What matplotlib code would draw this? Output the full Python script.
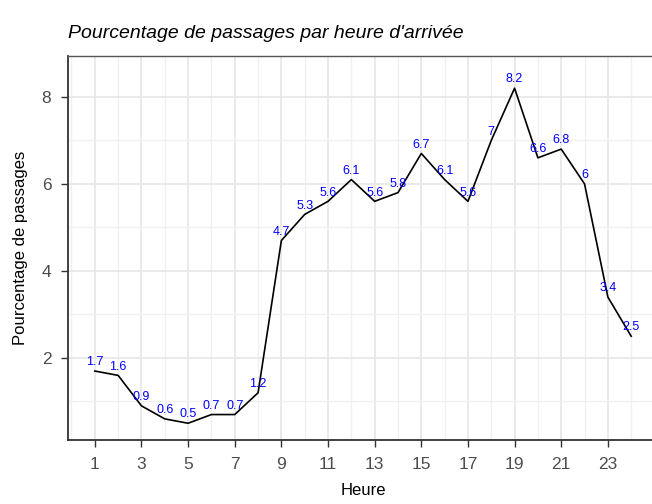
import matplotlib.pyplot as plt
import numpy as np

heures = list(range(1, 25))
pourcentages = [1.7, 1.6, 0.9, 0.6, 0.5, 0.7, 0.7, 1.2, 4.7, 5.3, 5.6, 6.1,
                5.6, 5.8, 6.7, 6.1, 5.6, 7, 8.2, 6.6, 6.8, 6, 3.4, 2.5]
etiquettes = ["1.7", "1.6", "0.9", "0.6", "0.5", "0.7", "0.7", "1.2", "4.7", "5.3", "5.6", "6.1",
              "5.6", "5.8", "6.7", "6.1", "5.6", "7", "8.2", "6.6", "6.8", "6", "3.4", "2.5"]

plt.rcParams['font.family'] = ['Liberation Sans', 'DejaVu Sans']

fig = plt.figure(figsize=(6.52, 5.04), dpi=100)
# panel runs a bit past the right edge, as in the reference
ax = fig.add_axes([68 / 652, 1 - 440 / 504, 590 / 652, 384 / 504])

ax.plot(heures, pourcentages, color='black', lw=1.2, zorder=3)
for h, p, t in zip(heures, pourcentages, etiquettes):
    ax.annotate(t, (h, p), xytext=(0, 2), textcoords='offset points',
                ha='center', va='bottom', color='blue', fontsize=9, zorder=4)

ax.set_xlim(-0.15, 25.15)
ax.set_ylim(0.115, 8.94)
ax.set_xticks(range(1, 25, 2))
ax.set_xticks(range(0, 26, 2), minor=True)
ax.set_yticks([2, 4, 6, 8])
ax.set_yticks([1, 3, 5, 7], minor=True)

ax.grid(which='major', color='#e8e8e8', lw=1.3, zorder=0)
ax.grid(which='minor', color='#f0f0f0', lw=1.0, zorder=0)
ax.set_axisbelow(True)

for s in ['left', 'bottom']:
    ax.spines[s].set_color('#333333')
    ax.spines[s].set_linewidth(1.3)
ax.spines['top'].set_color('#555555')
ax.spines['top'].set_linewidth(1.0)
ax.spines['right'].set_visible(False)

ax.tick_params(which='major', length=5, width=1, color='#333333',
               labelcolor='#4d4d4d', labelsize=12.5, pad=7)
ax.tick_params(which='minor', length=0)

ax.set_xlabel('Heure', fontsize=12, labelpad=8)
ax.set_ylabel('Pourcentage de passages', fontsize=12, labelpad=10)
fig.text(68 / 652, 1 - 33 / 504, "Pourcentage de passages par heure d'arrivée",
         fontsize=14, style='italic', va='center', ha='left')

fig.savefig('out.png', dpi=100)
